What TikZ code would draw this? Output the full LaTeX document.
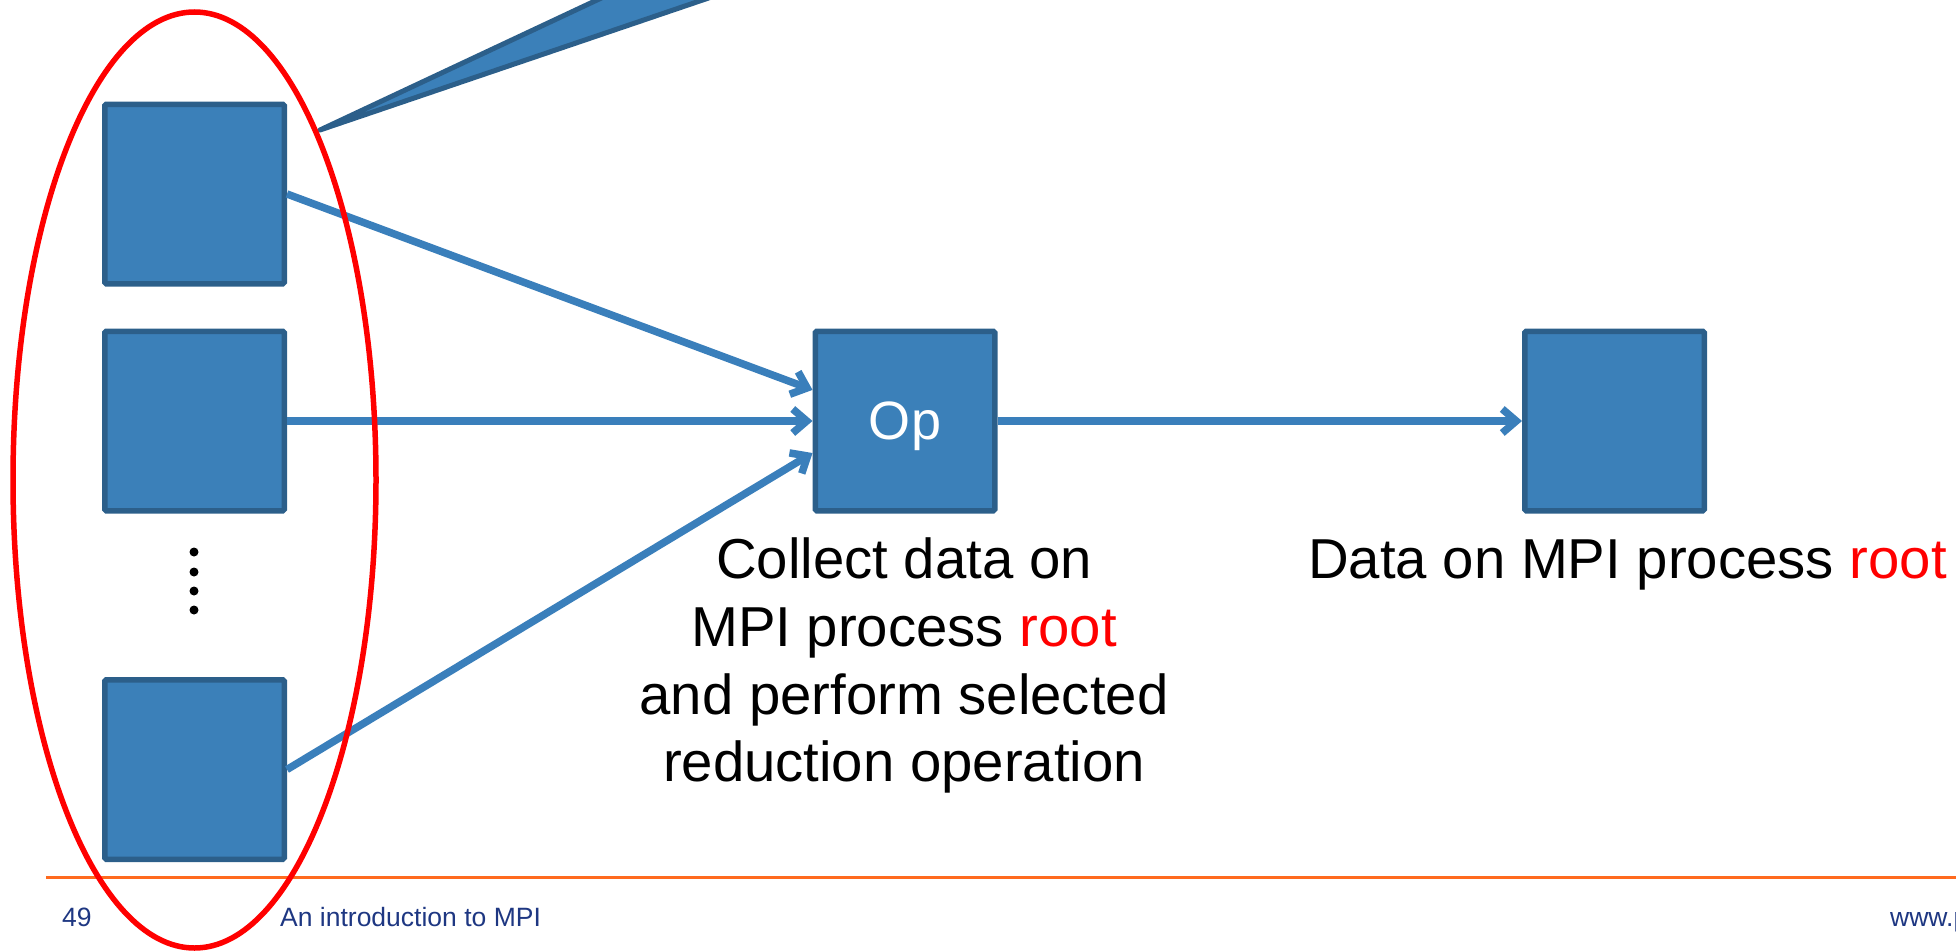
\documentclass[tikz,border=0pt]{standalone}
\usepackage{fontspec}
\setmainfont{Liberation Sans}
\usetikzlibrary{arrows.meta,calc}

\definecolor{boxfill}{RGB}{59,128,185}
\definecolor{boxedge}{RGB}{44,95,138}
\definecolor{flow}{RGB}{58,127,187}
\definecolor{rulecol}{RGB}{255,106,30}
\definecolor{foot}{RGB}{30,55,130}

\tikzset{
  proc/.style={draw=boxedge, fill=boxfill, line width=5.5pt, rounded corners=1.5pt,
    minimum width=179.5pt, minimum height=179.5pt, inner sep=0pt},
  flowarrow/.style={draw=flow, line width=7.5pt, -{Straight Barb[length=14pt,width=24pt]}},
  bigtext/.style={font=\fontsize{56.3}{67}\selectfont, anchor=base, inner sep=0pt},
  foottext/.style={font=\fontsize{26.5}{30}\selectfont, text=foot, anchor=base west, inner sep=0pt},
  dotmark/.style={circle, fill=black, minimum size=9pt, inner sep=0pt},
}

\begin{document}
\begin{tikzpicture}[x=1pt,y=-1pt]
  \useasboundingbox (0,0) rectangle (1956,950);
  \clip (0,0) rectangle (1956,950);

  % callout wedge coming in from the top
  \filldraw[fill=boxfill, draw=boxedge, line width=5pt, line join=round]
    (320,130) coordinate (tip) -- (661,-30) -- (791,-30) -- cycle;

  % process boxes
  \node[proc] (b1) at (194.5,194) {};
  \node[proc] (b2) at (194.5,421) {};
  \node[proc] (b3) at (194.5,769.5) {};
  \node[proc, text=white, text depth=0pt, font=\fontsize{54}{60}\selectfont] (op) at (905,421) {Op};
  \node[proc] (res) at (1614.5,421) {};

  % vertical ellipsis between the process boxes
  \node[dotmark] (d1) at (194,552) {};
  \node[dotmark] (d2) at (194,572) {};
  \node[dotmark] (d3) at (194,591) {};
  \node[dotmark] (d4) at (194,610) {};

  % data flow
  \draw[flowarrow] (b1.east) -- ($(op.north west)!0.332!(op.south west)$);
  \draw[flowarrow] (b2.east) -- (op.west);
  \draw[flowarrow] (b3.east) -- ($(op.north west)!0.673!(op.south west)$);
  \draw[flowarrow] (op.east) -- (res.west);

  % captions
  \node[bigtext] (c1) at (904,578) {Collect data on};
  \node[bigtext] (c2) at (904,646) {MPI process \textcolor{red}{root}};
  \node[bigtext] (c3) at (904,714) {and perform selected};
  \node[bigtext] (c4) at (904,781) {reduction operation};
  \node[bigtext] (rl) at (1627.5,578) {Data on MPI process \textcolor{red}{root}};

  % footer
  \draw[rulecol, line width=3pt] (46,877) -- (1960,877);
  \node[foottext] (pg) at (62,926) {49};
  \node[foottext] (ttl) at (280,926) {An introduction to MPI};
  \node[foottext] (web) at (1890,926) {www.prace-ri.eu};

  % group of all processes
  \draw[red, line width=5.5pt] (194.5,480) ellipse [x radius=181.5, y radius=468];
\end{tikzpicture}
\end{document}
